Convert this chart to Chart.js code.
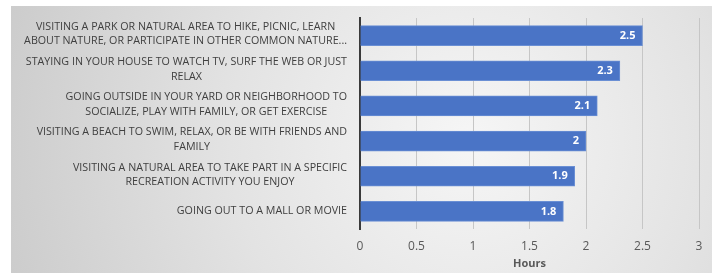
<!DOCTYPE html>
<html>
<head>
<meta charset="utf-8">
<script src="https://cdn.jsdelivr.net/npm/chart.js@4/dist/chart.umd.min.js"></script>
<style>
    body { margin: 0; background: #fff; }
    #wrap { width: 715px; height: 274px; position: relative; }
</style>
</head>
<body>
<div id="wrap"><canvas id="hoursChart"></canvas></div>
<script>
// === Data ===
const categories = [
    ['VISITING A PARK OR NATURAL AREA TO HIKE, PICNIC, LEARN', 'ABOUT NATURE, OR PARTICIPATE IN OTHER COMMON NATURE...'],
    ['STAYING IN YOUR HOUSE TO WATCH TV, SURF THE WEB OR JUST', 'RELAX'],
    ['GOING OUTSIDE IN YOUR YARD OR NEIGHBORHOOD TO', 'SOCIALIZE, PLAY WITH FAMILY, OR GET EXERCISE'],
    ['VISITING A BEACH TO SWIM, RELAX, OR BE WITH FRIENDS AND', 'FAMILY'],
    ['VISITING A NATURAL AREA TO TAKE PART IN A SPECIFIC', 'RECREATION ACTIVITY YOU ENJOY'],
    ['GOING OUT TO A MALL OR MOVIE']
];
const hours = [2.5, 2.3, 2.1, 2, 1.9, 1.8];
const xTicks = [0, 0.5, 1, 1.5, 2, 2.5, 3];
const axisTitle = 'Hours';

const FONT = "'Open Sans', 'DejaVu Sans', sans-serif";

// === Plugins ===
// gradient panel behind the chart
const panelBackground = {
    id: 'panelBackground',
    beforeDraw(chart) {
        const c = chart.ctx;
        const g = c.createRadialGradient(470, 140, 0, 470, 140, 480);
        g.addColorStop(0, '#f6f6f6');
        g.addColorStop(0.5, '#e3e3e3');
        g.addColorStop(1, '#cccccc');
        c.save();
        c.fillStyle = g;
        c.fillRect(11, 6, 701, 267);
        c.restore();
    }
};

// category labels: right aligned as a block, lines centred within it
const categoryLabels = {
    id: 'categoryLabels',
    afterDraw(chart) {
        const c = chart.ctx;
        const y = chart.scales.y;
        const right = y.right - 13;
        const lineH = 14.5;
        c.save();
        c.font = '10.7px ' + FONT;
        c.fillStyle = '#404040';
        c.textAlign = 'center';
        c.textBaseline = 'middle';
        categories.forEach((lines, i) => {
            const w = Math.max(...lines.map(l => c.measureText(l).width));
            const cx = right - w / 2;
            const cy = y.getPixelForTick(i) - (lines.length > 1 ? 1.5 : 0);
            const top = cy - (lines.length - 1) * lineH / 2;
            lines.forEach((l, j) => c.fillText(l, cx, top + j * lineH));
        });
        c.restore();
    }
};

// value labels inside the end of each bar
const valueLabels = {
    id: 'valueLabels',
    afterDatasetsDraw(chart) {
        const c = chart.ctx;
        const meta = chart.getDatasetMeta(0);
        c.save();
        c.font = 'bold 11px ' + FONT;
        c.fillStyle = '#ffffff';
        c.textAlign = 'right';
        c.textBaseline = 'middle';
        meta.data.forEach((bar, i) => {
            c.fillText(String(hours[i]), bar.x - 7, bar.y);
        });
        c.restore();
    }
};

// === Chart Setup ===
const ctx = document.getElementById('hoursChart').getContext('2d');

new Chart(ctx, {
    type: 'bar',
    data: {
        labels: categories,
        datasets: [{
            label: axisTitle,
            data: hours,
            backgroundColor: '#4a74c6',
            borderColor: '#6a8fd4',
            borderWidth: 1,
            barThickness: 20
        }]
    },
    options: {
        indexAxis: 'y',
        responsive: true,
        maintainAspectRatio: false,
        animation: false,
        layout: { padding: { top: 18, right: 16, left: 0, bottom: 0 } },
        plugins: {
            legend: { display: false },
            tooltip: { enabled: false }
        },
        scales: {
            x: {
                min: 0,
                max: 3,
                afterBuildTicks: (scale) => {
                    scale.ticks = xTicks.map(v => ({ value: v }));
                },
                afterFit: (scale) => { scale.height = 45; },
                grid: {
                    color: (c) => c.tick && c.tick.value === 0 ? 'rgba(0,0,0,0)' : '#c6c6c6',
                    lineWidth: 1,
                    drawTicks: false
                },
                border: { display: false },
                ticks: {
                    padding: 10,
                    color: '#595959',
                    font: { family: FONT, size: 12 },
                    callback: (v) => String(v)
                },
                title: {
                    display: true,
                    text: axisTitle,
                    color: '#595959',
                    font: { family: FONT, size: 11, weight: 'bold' },
                    padding: { top: 2, bottom: 4 }
                }
            },
            y: {
                afterFit: (scale) => { scale.width = 360; },
                grid: { display: false, drawTicks: false },
                border: { display: true, color: '#3a3a3a', width: 2 },
                ticks: { display: false }
            }
        }
    },
    plugins: [panelBackground, categoryLabels, valueLabels]
});
</script>
</body>
</html>
